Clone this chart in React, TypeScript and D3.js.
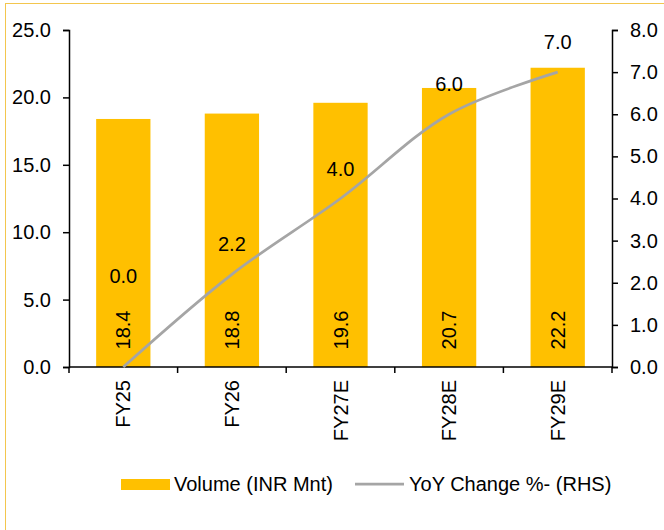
import { useEffect, useRef } from "react";
import * as d3 from "d3";

const categories = ["FY25", "FY26", "FY27E", "FY28E", "FY29E"];
const volume = [18.4, 18.8, 19.6, 20.7, 22.2];
const yoyChange = [0.0, 2.2, 4.0, 6.0, 7.0];
const leftTicks = [0, 5, 10, 15, 20, 25];
const rightTicks = [0, 1, 2, 3, 4, 5, 6, 7, 8];

const W = 664;
const H = 530;
const FONT = "'Liberation Sans', Arial, sans-serif";

export default function App() {
  const ref = useRef<SVGSVGElement>(null);

  useEffect(() => {
    const svg = d3.select(ref.current);
    svg.selectAll("*").remove();

    const margin = { left: 69, right: 612, top: 30, bottom: 367 };

    // outer frame (only top + left visible in picture)
    svg.append("rect")
      .attr("x", 5.5).attr("y", 3.5)
      .attr("width", 800).attr("height", 800)
      .attr("fill", "none")
      .attr("stroke", "#F3C64E")
      .attr("stroke-width", 1);

    const x = d3.scaleBand()
      .domain(categories)
      .range([margin.left, margin.right])
      .paddingInner(0.5)
      .paddingOuter(0.25);

    const yL = d3.scaleLinear().domain([0, 25]).range([margin.bottom, margin.top]);
    const yR = d3.scaleLinear().domain([0, 8]).range([margin.bottom, margin.top]);

    // bars
    svg.append("g").selectAll("rect")
      .data(volume)
      .join("rect")
      .attr("x", (_, i) => x(categories[i])!)
      .attr("width", x.bandwidth())
      .attr("y", d => yL(d))
      .attr("height", d => yL(0) - yL(d))
      .attr("fill", "#FFC000");

    // bar labels (rotated)
    svg.append("g").selectAll("text")
      .data(volume)
      .join("text")
      .attr("transform", (_, i) =>
        `translate(${x(categories[i])! + x.bandwidth() / 2 + 7}, ${yL(0) - 37}) rotate(-90)`)
      .attr("text-anchor", "middle")
      .attr("font-family", FONT)
      .attr("font-size", 20)
      .attr("fill", "#000")
      .text(d => d.toFixed(1));

    // left axis
    const leftAxis = svg.append("g")
      .attr("transform", `translate(${margin.left},0)`)
      .call(d3.axisLeft(yL).tickValues(leftTicks).tickSize(6).tickPadding(12).tickFormat(d => (+d).toFixed(1)));
    leftAxis.select(".domain").attr("stroke", "#000").attr("stroke-width", 1.5);
    leftAxis.selectAll(".tick line").attr("stroke", "#000").attr("stroke-width", 1.5);
    leftAxis.selectAll("text").attr("font-family", FONT).attr("font-size", 20).attr("fill", "#000");

    // right axis
    const rightAxis = svg.append("g")
      .attr("transform", `translate(${margin.right},0)`)
      .call(d3.axisRight(yR).tickValues(rightTicks).tickSize(6).tickPadding(12).tickFormat(d => (+d).toFixed(1)));
    rightAxis.select(".domain").attr("stroke", "#000").attr("stroke-width", 1.5);
    rightAxis.selectAll(".tick line").attr("stroke", "#000").attr("stroke-width", 1.5);
    rightAxis.selectAll("text").attr("font-family", FONT).attr("font-size", 20).attr("fill", "#000");

    // x axis line and boundary ticks
    const xg = svg.append("g");
    xg.append("line")
      .attr("x1", margin.left).attr("x2", margin.right)
      .attr("y1", yL(0)).attr("y2", yL(0))
      .attr("stroke", "#000").attr("stroke-width", 1.5);
    const step = x.step();
    xg.selectAll(".xt")
      .data(d3.range(categories.length + 1))
      .join("line")
      .attr("class", "xt")
      .attr("x1", i => margin.left + i * step)
      .attr("x2", i => margin.left + i * step)
      .attr("y1", yL(0)).attr("y2", yL(0) + 6)
      .attr("stroke", "#000").attr("stroke-width", 1.5);
    xg.selectAll(".xl")
      .data(categories)
      .join("text")
      .attr("class", "xl")
      .attr("transform", d => `translate(${x(d)! + x.bandwidth() / 2 + 7}, ${yL(0) + 13}) rotate(-90)`)
      .attr("text-anchor", "end")
      .attr("font-family", FONT)
      .attr("font-size", 20)
      .attr("fill", "#000")
      .text(d => d);

    // YoY line
    const line = d3.line<number>()
      .x((_, i) => x(categories[i])! + x.bandwidth() / 2)
      .y(d => yR(d))
      .curve(d3.curveCatmullRom.alpha(0.5));
    svg.append("path")
      .datum(yoyChange)
      .attr("d", line)
      .attr("fill", "none")
      .attr("stroke", "#A5A5A5")
      .attr("stroke-width", 2.75);

    svg.append("g").selectAll("text")
      .data(yoyChange)
      .join("text")
      .attr("x", (_, i) => x(categories[i])! + x.bandwidth() / 2)
      .attr("y", d => yR(d) - (d === 0 ? 84 : 23))
      .attr("text-anchor", "middle")
      .attr("font-family", FONT)
      .attr("font-size", 20)
      .attr("fill", "#000")
      .text(d => d.toFixed(1));

    // legend
    const lg = svg.append("g");
    lg.append("rect")
      .attr("x", 121).attr("y", 479).attr("width", 49).attr("height", 11)
      .attr("fill", "#FFC000");
    lg.append("text")
      .attr("x", 174).attr("y", 491)
      .attr("font-family", FONT).attr("font-size", 20).attr("fill", "#000")
      .text("Volume (INR Mnt)");
    lg.append("line")
      .attr("x1", 355).attr("x2", 404).attr("y1", 484).attr("y2", 484)
      .attr("stroke", "#A5A5A5").attr("stroke-width", 2.75);
    lg.append("text")
      .attr("x", 409).attr("y", 491)
      .attr("font-family", FONT).attr("font-size", 20).attr("fill", "#000")
      .text("YoY Change %- (RHS)");
  }, []);

  return (
    <svg
      ref={ref}
      width={W}
      height={H}
      style={{ position: "absolute", left: 0, top: 0, background: "#fff" }}
    />
  );
}
